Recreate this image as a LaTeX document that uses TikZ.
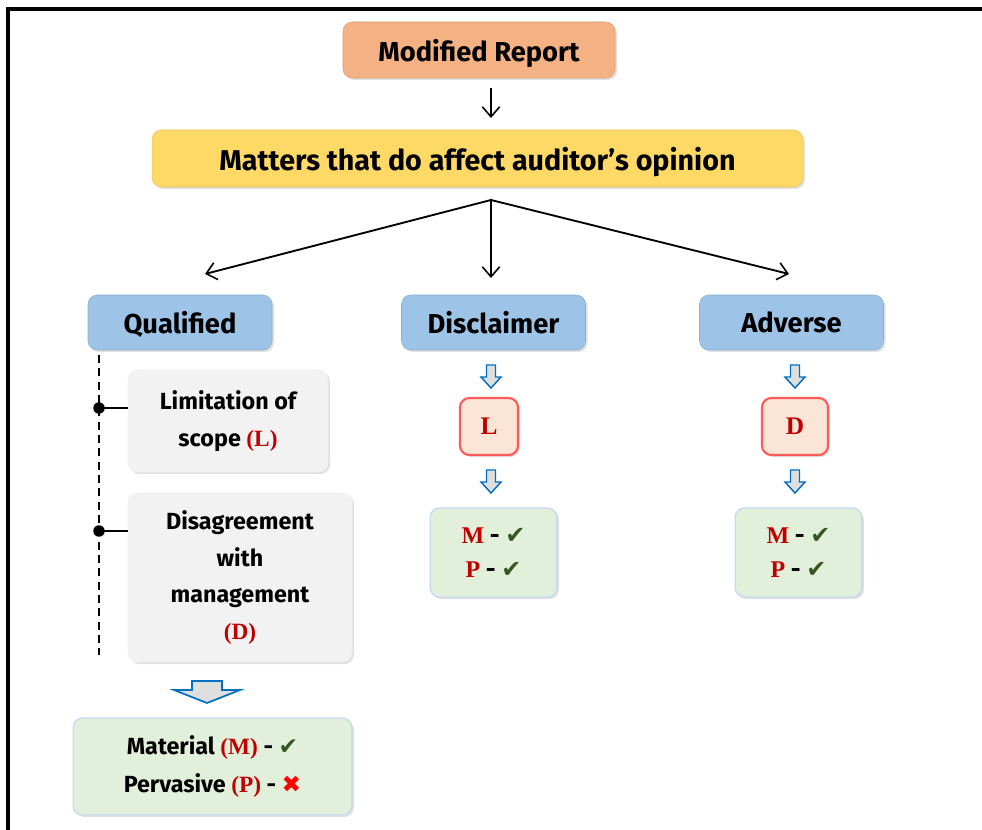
\documentclass[tikz,border=0pt]{standalone}
\usepackage{fontspec}
\setmainfont{Fira Sans}
\newfontfamily\symf{DejaVu Sans}
\newfontfamily\serf{Liberation Serif}
\usetikzlibrary{arrows.meta,shadows,calc}
\definecolor{salmon}{HTML}{F4B183}
\definecolor{gold}{HTML}{FFD966}
\definecolor{sky}{HTML}{9DC3E6}
\definecolor{pale}{HTML}{F2F2F2}
\definecolor{mint}{HTML}{E2EFDA}
\definecolor{peach}{HTML}{FBE5D6}
\definecolor{dred}{HTML}{C00000}
\definecolor{dgreen}{HTML}{375623}
\definecolor{ablue}{HTML}{0070C0}
\newcommand{\rl}[1]{{\serf\bfseries\color{dred}#1}}
\newcommand{\okmark}{{\symf\color{dgreen}✔}}
\newcommand{\nomark}{{\symf\color{red}✖}}
\tikzset{
  soft/.style={general shadow={fill=black,opacity=0.12,shadow xshift=1.5pt,shadow yshift=-1.5pt}},
  box/.style={rounded corners=7pt,align=center,font=\bfseries,inner sep=0pt,soft},
  topbox/.style={box,fill=salmon,draw=salmon!90!black,font=\bfseries\fontsize{20.5}{24}\selectfont,text depth=0pt},
  midbox/.style={box,fill=gold,draw=gold!90!black,font=\bfseries\fontsize{21.5}{25}\selectfont,text depth=0pt},
  typebox/.style={box,fill=sky,draw=sky!90!black,font=\bfseries\fontsize{20.5}{24}\selectfont,minimum width=138pt,minimum height=41.25pt,text depth=0pt},
  greybox/.style={box,fill=pale,draw=gray!12,font=\bfseries\fontsize{17.5}{27.5}\selectfont},
  greenbox/.style={box,fill=mint,draw=sky!60,line width=1pt,font=\bfseries\fontsize{17.5}{28.5}\selectfont},
  letterbox/.style={box,fill=peach,draw=red!65,line width=1.6pt,font=\serf\bfseries\color{dred}\fontsize{19}{22}\selectfont,minimum height=42.75pt},
  conn/.style={line width=1.4pt,-{Straight Barb[length=7.5pt,width=13pt,line width=1.2pt]}},
  blockarrow/.style={draw=ablue,fill=gray!25,line width=1.3pt,line join=miter}
}
\begin{document}
\begin{tikzpicture}[x=0.75pt,y=-0.75pt]
\useasboundingbox (0,0) rectangle (982,830);
% frame
\draw[line width=2.4pt] (8,840) -- (8,9) -- (995,9);

% top nodes
\node[topbox,minimum width=204pt,minimum height=42pt] (mod) at (479,50) {Modified Report};
\node[midbox,minimum width=488pt,minimum height=42.75pt] (mat) at (477.5,158.5) {Matters that do affect auditor’s opinion};
\coordinate (a1s) at (491,88);
\coordinate (a1e) at (491,118);
\draw[conn,line width=1.1pt] (a1s) -- (a1e);

% opinion types
\node[typebox] (qual) at (180,322.5) {Qualified};
\node[typebox] (disc) at (493.5,322.5) {Disclaimer};
\node[typebox] (adv) at (791.5,322.5) {Adverse};

\coordinate (split) at (491,200);
\coordinate (tq) at (205,274);
\coordinate (td) at (491,278);
\coordinate (ta) at (789,274);
\draw[conn] (split) -- (tq);
\draw[conn] (split) -- (td);
\draw[conn] (split) -- (ta);

% qualified branch
\node[greybox,minimum width=150pt,minimum height=76.5pt] (lim) at (228,421) {Limitation of\\scope \rl{(L)}};
\node[greybox,minimum width=168pt,minimum height=126.75pt] (dis) at (240,577.5) {Disagreement\\with\\management\\\rl{(D)}};
\coordinate (dtop) at (99,355);
\coordinate (dbot) at (99,655);
\draw[line width=1.3pt,dash pattern=on 6pt off 4pt] (dtop) -- (dbot);
\coordinate (d1) at (99,408);
\coordinate (d2) at (99,531);
\draw[line width=1.2pt] (d1) -- (d1 -| lim.west);
\draw[line width=1.2pt] (d2) -- (d2 -| dis.west);
\fill (d1) circle (4.3pt);
\fill (d2) circle (4.3pt);

% big block arrow
\coordinate (ba) at (207,681);
\draw[blockarrow] ($(ba)+(-15,0)$) -- ($(ba)+(15,0)$) -- ($(ba)+(15,9)$) -- ($(ba)+(33,9)$) -- ($(ba)+(0,22)$) -- ($(ba)+(-33,9)$) -- ($(ba)+(-15,9)$) -- cycle;

\node[greenbox,minimum width=209pt,minimum height=72.75pt] (mp0) at (212.5,766.5) {Material \rl{(M)} - \okmark\\Pervasive \rl{(P)} - \nomark};

% disclaimer branch
\node[letterbox,minimum width=43.5pt] (L) at (489,426.5) {L};
\node[greenbox,minimum width=95pt,minimum height=66.75pt,font=\bfseries\fontsize{18}{25}\selectfont] (mp1) at (493.5,552.5) {\rl{M} - \okmark\\\rl{P} - \okmark};

% adverse branch
\node[letterbox,minimum width=49.5pt] (D) at (795,426.5) {D};
\node[greenbox,minimum width=95pt,minimum height=66.75pt,font=\bfseries\fontsize{18}{25}\selectfont] (mp2) at (798.5,552.5) {\rl{M} - \okmark\\\rl{P} - \okmark};

% small block arrows
\foreach \cx/\cy in {491/365, 491/470, 795/365, 795/470}{
  \draw[blockarrow,line width=1.1pt] (\cx-4.5,\cy) -- (\cx+4.5,\cy) -- (\cx+4.5,\cy+12) -- (\cx+10,\cy+12) -- (\cx,\cy+23) -- (\cx-10,\cy+12) -- (\cx-4.5,\cy+12) -- cycle;
}
\end{tikzpicture}
\end{document}
